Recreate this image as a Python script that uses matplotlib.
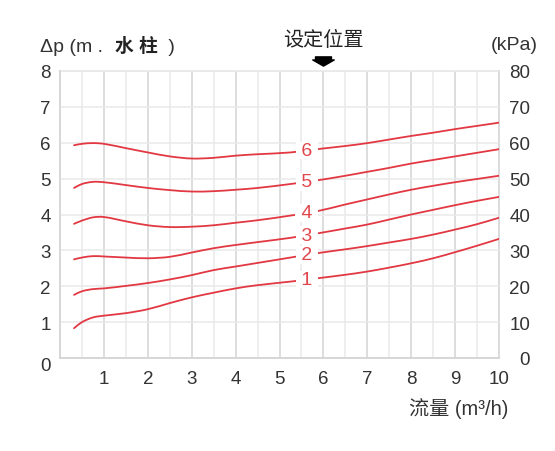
import numpy as np
import matplotlib
matplotlib.use("Agg")
import matplotlib.pyplot as plt
from matplotlib.path import Path
from matplotlib.patches import PathPatch
import matplotlib.transforms as mtransforms

plt.rcParams['font.family'] = ['Liberation Sans', 'Noto Sans CJK SC', 'DejaVu Sans']

# ---- data ----
flow = [0.32, 0.5, 0.75, 1.0, 1.5, 2.0, 2.5, 3.0, 3.5, 4.0, 4.5, 5.25, 5.85,
        6.5, 7.0, 7.5, 8.0, 8.5, 9.0, 9.5, 10.0]
curve_1 = [0.83, 1.00, 1.13, 1.18, 1.25, 1.36, 1.53, 1.69, 1.82, 1.94, 2.03, 2.13, 2.22,
           2.32, 2.41, 2.52, 2.64, 2.78, 2.95, 3.13, 3.32]
curve_2 = [1.76, 1.86, 1.92, 1.94, 2.01, 2.09, 2.19, 2.31, 2.45, 2.55, 2.65, 2.80, 2.92,
           3.03, 3.12, 3.22, 3.32, 3.44, 3.58, 3.73, 3.91]
curve_3 = [2.75, 2.80, 2.84, 2.83, 2.80, 2.78, 2.82, 2.94, 3.06, 3.15, 3.23, 3.35, 3.47,
           3.61, 3.72, 3.86, 4.00, 4.13, 4.26, 4.38, 4.49]
curve_4 = [3.74, 3.83, 3.92, 3.93, 3.81, 3.70, 3.65, 3.66, 3.70, 3.77, 3.84, 3.97, 4.09,
           4.28, 4.42, 4.56, 4.69, 4.80, 4.90, 4.99, 5.08]
curve_5 = [4.74, 4.85, 4.91, 4.90, 4.82, 4.74, 4.68, 4.64, 4.65, 4.69, 4.74, 4.85, 4.95,
           5.08, 5.19, 5.30, 5.42, 5.52, 5.62, 5.72, 5.82]
curve_6 = [5.93, 5.97, 5.99, 5.97, 5.85, 5.73, 5.62, 5.56, 5.58, 5.64, 5.68, 5.73, 5.82,
           5.91, 5.99, 6.09, 6.19, 6.28, 6.38, 6.47, 6.56]
curves = [curve_1, curve_2, curve_3, curve_4, curve_5, curve_6]
curve_labels = ["1", "2", "3", "4", "5", "6"]
label_x = 5.62
set_position = 6
x_ticks = [1, 2, 3, 4, 5, 6, 7, 8, 9, 10]
y_ticks = [0, 1, 2, 3, 4, 5, 6, 7, 8]
kpa_ticks = [0, 10, 20, 30, 40, 50, 60, 70, 80]

W, H = 555, 452
fig = plt.figure(figsize=(W / 100, H / 100), dpi=100)
ax = fig.add_axes([60 / W, 93 / H, 439 / W, 287 / H])
ax.set_xlim(0, 10)
ax.set_ylim(0, 8)

txt = '#333333'
red = '#e23842'

# grid
ax.set_xticks(x_ticks)
ax.set_xticks(np.arange(0.5, 10, 1.0), minor=True)
ax.set_yticks(y_ticks)
ax.grid(which='major', axis='x', color='#dadada', lw=1.3, zorder=0)
ax.grid(which='minor', axis='x', color='#e9e9e9', lw=1.1, zorder=0)
ax.grid(which='major', axis='y', color='#e9e9e9', lw=1.1, zorder=0)
for s in ['top', 'right']:
    ax.spines[s].set_visible(False)
for s in ['left', 'bottom']:
    ax.spines[s].set_color('#d4d4d4')
    ax.spines[s].set_linewidth(1.3)
ax.axhline(8, color='#e6e6e6', lw=1.1, zorder=0, clip_on=False)
ax.axvline(10, color='#dadada', lw=1.3, zorder=0, clip_on=False)

ax.tick_params(axis='both', which='both', length=0, labelsize=13.5, labelcolor=txt)
ax.tick_params(axis='x', pad=8.5)
ax.tick_params(axis='y', pad=6.5)

# shift left "0" down a bit
lbl0 = ax.get_yticklabels()[0]
lbl0.set_transform(lbl0.get_transform() + mtransforms.ScaledTranslation(0, -6 / 100, fig.dpi_scale_trans))

ax2 = ax.twinx()
ax2.set_ylim(0, 80)
ax2.set_yticks(kpa_ticks)
ax2.tick_params(axis='y', length=0, pad=22.5, labelsize=13.5, labelcolor=txt)
for l in ax2.get_yticklabels():
    l.set_horizontalalignment('right')
for s in ax2.spines.values():
    s.set_visible(False)


def smooth_path(xs, ys):
    """Cubic Hermite (as Bezier) path through the given points."""
    xs = np.asarray(xs, float)
    ys = np.asarray(ys, float)
    n = len(xs)
    m = np.empty(n)
    m[0] = (ys[1] - ys[0]) / (xs[1] - xs[0])
    m[-1] = (ys[-1] - ys[-2]) / (xs[-1] - xs[-2])
    for i in range(1, n - 1):
        m[i] = (ys[i + 1] - ys[i - 1]) / (xs[i + 1] - xs[i - 1])
    verts = [(xs[0], ys[0])]
    codes = [Path.MOVETO]
    for i in range(n - 1):
        h = xs[i + 1] - xs[i]
        verts += [(xs[i] + h / 3, ys[i] + m[i] * h / 3),
                  (xs[i + 1] - h / 3, ys[i + 1] - m[i + 1] * h / 3),
                  (xs[i + 1], ys[i + 1])]
        codes += [Path.CURVE4] * 3
    return Path(verts, codes)


# curves
for ys, lab in zip(curves, curve_labels):
    ax.add_patch(PathPatch(smooth_path(flow, ys), fill=False, edgecolor=red, lw=1.3,
                           zorder=3, capstyle='round'))
    ly = np.interp(label_x, flow, ys)
    ax.text(label_x, ly, " " + lab + " ", color='#e0464c', fontsize=14, ha='center',
            va='center', zorder=4,
            bbox=dict(boxstyle='square,pad=0.02', fc='white', ec='none'))

# set-position arrow
verts = [(-7.8, 4.5), (7.8, 4.5), (7.8, 1.5), (10.5, 1.5), (0, -4.5), (-10.5, 1.5), (-7.8, 1.5), (-7.8, 4.5)]
codes = [Path.MOVETO] + [Path.LINETO] * 6 + [Path.CLOSEPOLY]
arrow = Path(verts, codes)
trans = mtransforms.blended_transform_factory(ax.transData, ax.transAxes)
ax.plot([set_position], [1.0 + (72 - 61.5) / 287], marker=arrow, ms=15.5, color='black',
        transform=trans, clip_on=False, linestyle='none')
ax.text(set_position, 1.0 + (72 - 40) / 287, "设定位置", transform=trans, ha='center', va='center',
        fontsize=14.5, color='#222222')


def fx(px):
    return px / W


def fy(py):
    return 1 - py / H


fig.text(fx(40), fy(47), "Δp (m . ", fontsize=14, color=txt, ha='left', va='center')
fig.text(fx(115), fy(47), "水 柱", fontsize=13.5, color='#222222', ha='left', va='center',
         fontweight='bold')
fig.text(fx(163), fy(47), " )", fontsize=14, color=txt, ha='left', va='center')
fig.text(fx(538), fy(46), "(kPa)", fontsize=14, color=txt, ha='right', va='center')
fig.text(fx(508), fy(409), "流量 (m³/h)", fontsize=14.5, color=txt, ha='right', va='center')

fig.savefig("out.png", dpi=100, facecolor='white')
